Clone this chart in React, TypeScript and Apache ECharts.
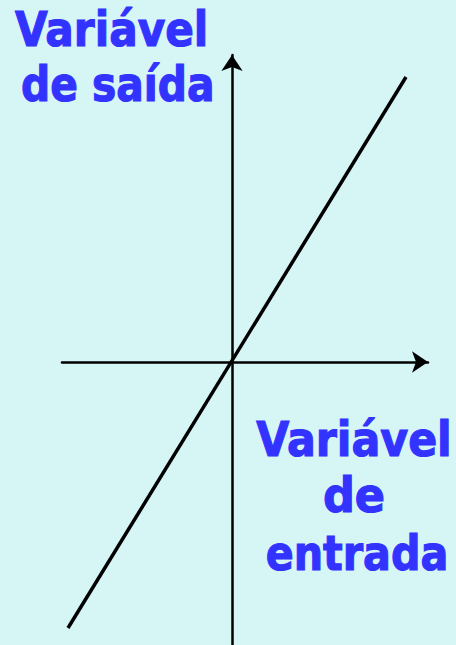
import React, { useEffect, useRef } from "react";
import * as echarts from "echarts";

const lineX = [-1.64, 1.74];
const lineY = [-2.66, 2.85];
const outputLabel = ["Variável", "de saída"];
const inputLabel = ["Variável", "de", "entrada"];

export default function App() {
  const ref = useRef<HTMLDivElement>(null);
  useEffect(() => {
    document.body.style.margin = "0";
    const chart = echarts.init(ref.current!, null, { renderer: "svg" });
    const font = "'DejaVu Sans', Verdana, sans-serif";
    const blue = "#3333ff";
    const label = (t: string, x: number, y: number, align: string, sx: number) => ({
      type: "text",
      x,
      y,
      scaleX: sx,
      style: {
        text: t,
        fill: blue,
        stroke: blue,
        lineWidth: 1.2,
        font: `bold 48px ${font}`,
        textAlign: align,
        textVerticalAlign: "bottom",
      },
    });
    const axisLine = {
      onZero: true,
      symbol: ["none", "arrow"],
      symbolSize: [16, 16],
      lineStyle: { color: "#000", width: 2.5 },
    };
    chart.setOption({
      animation: false,
      backgroundColor: "#d6f5f5",
      grid: { left: 62, right: 28, top: 55, bottom: 0 },
      xAxis: {
        type: "value",
        min: -1.7,
        max: 1.96,
        axisLine,
        axisTick: { show: false },
        axisLabel: { show: false },
        splitLine: { show: false },
      },
      yAxis: {
        type: "value",
        min: -2.83,
        max: 3.07,
        axisLine,
        axisTick: { show: false },
        axisLabel: { show: false },
        splitLine: { show: false },
      },
      series: [
        {
          type: "line",
          data: lineX.map((x, i) => [x, lineY[i]]),
          symbol: "none",
          lineStyle: { color: "#000", width: 3.5 },
        },
      ],
      graphic: [
        label(outputLabel[0], 15, 54, "left", 0.88),
        label(outputLabel[1], 21, 109, "left", 0.85),
        label(inputLabel[0], 354, 464, "center", 0.89),
        label(inputLabel[1], 354, 519, "center", 0.93),
        label(inputLabel[2], 357, 577, "center", 0.86),
      ],
    });
    return () => chart.dispose();
  }, []);
  return <div ref={ref} style={{ width: 456, height: 645 }} />;
}
